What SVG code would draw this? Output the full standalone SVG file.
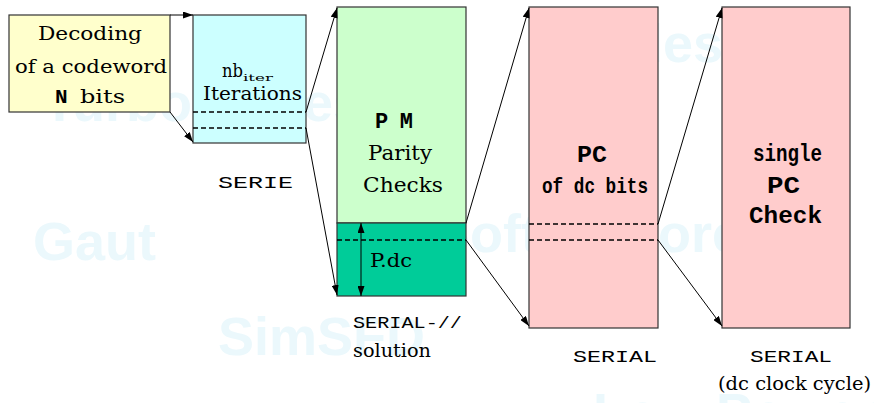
<svg xmlns="http://www.w3.org/2000/svg" width="874" height="403" viewBox="0 0 874 403">
  <style>
    .box { stroke: #333333; stroke-width: 1.2; }
    .dash { stroke: #000000; stroke-width: 1.6; stroke-dasharray: 5 3; fill: none; }
    .wire { stroke: #000000; stroke-width: 1; fill: none; marker-end: url(#head); }
    .serif { font-family: "DejaVu Serif", "Liberation Serif", serif; fill: #000000; }
    .mono { font-family: "Liberation Mono", "DejaVu Sans Mono", monospace; fill: #000000; }
    .mb { font-family: "Liberation Mono", "DejaVu Sans Mono", monospace; font-weight: bold; fill: #000000; }
    .wm { font-family: "Liberation Sans", Arial, sans-serif; font-weight: bold; font-size: 54px; fill: #ebf8fc; }
  </style>
  <defs>
    <marker id="head" viewBox="0 0 10 7" refX="10" refY="3.5" markerWidth="10" markerHeight="7" markerUnits="userSpaceOnUse" orient="auto-start-reverse">
      <path d="M0,0 L10,3.5 L0,7 z" fill="#000000"/>
    </marker>
  </defs>

  <rect x="0" y="0" width="874" height="403" fill="#ffffff"/>

  <!-- faint background lettering -->
  <g id="backdrop">
    <text class="wm" x="43" y="121">Turbo codes</text>
    <text class="wm" x="33" y="260">Gaut</text>
    <text class="wm" x="218" y="355">SimSFD</text>
    <text class="wm" x="434" y="252">Soft</text>
    <text class="wm" x="619" y="252">Core</text>
    <text class="wm" x="558" y="62">Codes</text>
    <text class="wm" x="593" y="431">Low Power</text>
  </g>

  <g id="decoding">
    <rect class="box" x="9" y="15" width="161" height="97" fill="#ffffcc"/>
    <text class="serif" font-size="18" x="38" y="40" textLength="104" lengthAdjust="spacingAndGlyphs">Decoding</text>
    <text class="serif" font-size="18" x="15" y="73" textLength="152" lengthAdjust="spacingAndGlyphs">of a codeword</text>
    <text class="mb" font-size="21" x="55" y="103">N</text>
    <text class="serif" font-size="18" x="80" y="103" textLength="45" lengthAdjust="spacingAndGlyphs">bits</text>
  </g>

  <g id="iterations">
    <rect class="box" x="193" y="15" width="113" height="128" fill="#ccffff"/>
    <text class="serif" font-size="18" x="222" y="77" textLength="21" lengthAdjust="spacingAndGlyphs">nb</text>
    <text class="serif" font-size="10" x="243" y="81" textLength="30" lengthAdjust="spacingAndGlyphs">iter</text>
    <text class="serif" font-size="18" x="203" y="100" textLength="99" lengthAdjust="spacingAndGlyphs">Iterations</text>
    <line class="dash" x1="193" y1="112" x2="306" y2="112"/>
    <line class="dash" x1="193" y1="128" x2="306" y2="128"/>
    <text class="mono" font-size="17" x="218" y="188" textLength="75" lengthAdjust="spacingAndGlyphs">SERIE</text>
  </g>

  <g id="parity-checks">
    <rect class="box" x="337" y="7" width="129" height="216" fill="#ccffcc"/>
    <rect class="box" x="337" y="223" width="129" height="73" fill="#00cc99"/>
    <line class="dash" x1="337" y1="240" x2="466" y2="240"/>
    <text class="mb" font-size="22" x="375" y="128" textLength="38">PM</text>
    <text class="serif" font-size="21" x="368" y="160" textLength="64" lengthAdjust="spacingAndGlyphs">Parity</text>
    <text class="serif" font-size="21" x="363" y="192" textLength="80" lengthAdjust="spacingAndGlyphs">Checks</text>
    <text class="serif" font-size="19" x="370" y="267" textLength="42" lengthAdjust="spacingAndGlyphs">P.dc</text>
    <text class="mono" font-size="17" x="353" y="328" textLength="109" lengthAdjust="spacingAndGlyphs">SERIAL-//</text>
    <text class="serif" font-size="18" x="353" y="357" textLength="78" lengthAdjust="spacingAndGlyphs">solution</text>
  </g>

  <g id="pc-dc-bits">
    <rect class="box" x="529" y="7" width="129" height="321" fill="#ffcccc"/>
    <line class="dash" x1="529" y1="224" x2="658" y2="224"/>
    <line class="dash" x1="529" y1="240" x2="658" y2="240"/>
    <text class="mb" font-size="24" x="577" y="162" textLength="30" lengthAdjust="spacingAndGlyphs">PC</text>
    <text class="mb" font-size="22" x="542" y="193" textLength="106" lengthAdjust="spacingAndGlyphs">of dc bits</text>
    <text class="mono" font-size="17" x="573" y="362" textLength="84" lengthAdjust="spacingAndGlyphs">SERIAL</text>
  </g>

  <g id="single-pc">
    <rect class="box" x="722" y="7" width="128" height="321" fill="#ffcccc"/>
    <text class="mb" font-size="23" x="753" y="161" textLength="69" lengthAdjust="spacingAndGlyphs">single</text>
    <text class="mb" font-size="24" x="767" y="193" textLength="33" lengthAdjust="spacingAndGlyphs">PC</text>
    <text class="mb" font-size="23" x="749" y="223" textLength="73" lengthAdjust="spacingAndGlyphs">Check</text>
    <text class="mono" font-size="17" x="750" y="362" textLength="82" lengthAdjust="spacingAndGlyphs">SERIAL</text>
    <text class="serif" font-size="18" x="718" y="390" textLength="153" lengthAdjust="spacingAndGlyphs">(dc clock cycle)</text>
  </g>

  <g id="connectors">
    <line class="wire" x1="170" y1="15" x2="193" y2="15"/>
    <line class="wire" x1="170" y1="112" x2="193" y2="142"/>
    <line class="wire" x1="306" y1="112" x2="337" y2="8"/>
    <line class="wire" x1="306" y1="128" x2="337" y2="295"/>
    <line class="wire" x1="466" y1="223" x2="529" y2="8"/>
    <line class="wire" x1="466" y1="240" x2="529" y2="326"/>
    <line class="wire" x1="658" y1="224" x2="722" y2="8"/>
    <line class="wire" x1="658" y1="240" x2="722" y2="326"/>
    <line class="wire" x1="361" y1="223" x2="361" y2="296" marker-start="url(#head)"/>
  </g>
</svg>
